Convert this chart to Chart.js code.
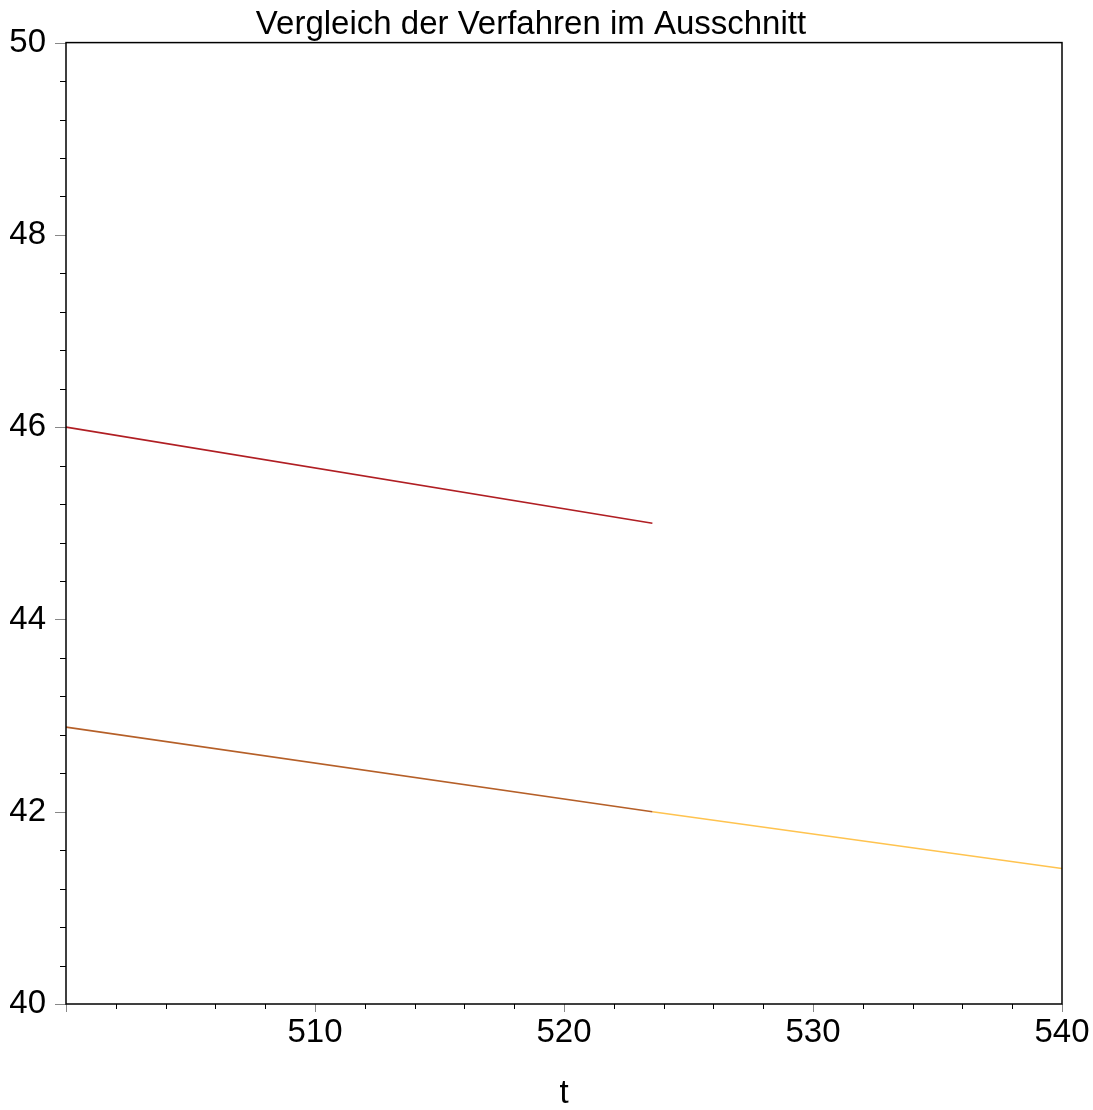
<!DOCTYPE html>
<html>
<head>
<meta charset="utf-8">
<script src="https://cdn.jsdelivr.net/npm/chart.js@4"></script>
<style>
  html, body { margin: 0; padding: 0; background: #fff; }
  #wrap { width: 1093px; height: 1110px; }
</style>
</head>
<body>
<div id="wrap"><canvas id="c" width="1093" height="1110"></canvas></div>
<script>
// data
const tFirst = [500, 523.55];
const tSecond = [523.55, 540];
const redValues = [46.0, 45.0];
const brownValues = [42.88, 42.0];
const yellowValues = [42.0, 41.41];
const xTicks = [510, 520, 530, 540];
const yTicks = [40, 42, 44, 46, 48, 50];

const toPoints = (xs, ys) => xs.map((x, i) => ({ x, y: ys[i] }));

// box round the plot plus Maple style minor/major ticks
const frameTicks = {
  id: "frameTicks",
  afterDraw(chart) {
    const { ctx, chartArea: a, scales } = chart;
    ctx.save();
    ctx.lineWidth = 1;
    for (let v = 40; v <= 50.0001; v += 0.4) {
      const y = Math.round(scales.y.getPixelForValue(v)) + 0.5;
      const major = Math.abs(v - Math.round(v / 2) * 2) < 1e-6;
      ctx.strokeStyle = major ? "#888" : "#000";
      ctx.beginPath();
      ctx.moveTo(a.left - (major ? 11 : 6), y);
      ctx.lineTo(a.left, y);
      ctx.stroke();
    }
    for (let v = 500; v <= 540.0001; v += 2) {
      const x = Math.round(scales.x.getPixelForValue(v)) + 0.5;
      const major = Math.abs(v - Math.round(v / 10) * 10) < 1e-6;
      ctx.strokeStyle = major ? "#888" : "#000";
      ctx.beginPath();
      ctx.moveTo(x, a.bottom);
      ctx.lineTo(x, a.bottom + (major ? 8 : 5));
      ctx.stroke();
    }
    ctx.strokeStyle = "#000";
    ctx.lineWidth = 1.5;
    ctx.strokeRect(a.left, a.top, a.right - a.left, a.bottom - a.top);
    ctx.restore();
  },
};

Chart.defaults.font.family = "'Liberation Sans', Arial, sans-serif";
Chart.defaults.color = "#000";

new Chart(document.getElementById("c"), {
  type: "scatter",
  data: {
    datasets: [
      { label: "a", data: toPoints(tFirst, redValues), borderColor: "#b01e23" },
      { label: "b", data: toPoints(tFirst, brownValues), borderColor: "#b55f28" },
      { label: "c", data: toPoints(tSecond, yellowValues), borderColor: "#ffc34f" },
    ].map(d => Object.assign(d, { showLine: true, pointRadius: 0, borderWidth: 1.6, fill: false })),
  },
  options: {
    responsive: false,
    animation: false,
    layout: { padding: { left: 0, right: 31, top: 0, bottom: 0 } },
    plugins: {
      legend: { display: false },
      tooltip: { enabled: false },
      title: {
        display: true,
        text: "Vergleich der Verfahren im Ausschnitt",
        font: { size: 33, weight: "normal", lineHeight: 1.2 },
        color: "#000",
        padding: { top: 5, bottom: -2 },
      },
    },
    scales: {
      x: {
        type: "linear",
        min: 500,
        max: 540,
        afterBuildTicks: s => { s.ticks = xTicks.map(v => ({ value: v })); },
        afterFit: s => { s.height = 106; s.paddingLeft = 0; s.paddingRight = 0; },
        grid: { display: false, drawTicks: false },
        border: { display: false },
        ticks: { font: { size: 33 }, padding: 9, maxRotation: 0 },
        title: { display: true, text: "t", font: { size: 33 }, padding: { top: 10, bottom: -4 } },
      },
      y: {
        type: "linear",
        min: 40,
        max: 50,
        afterBuildTicks: s => { s.ticks = yTicks.map(v => ({ value: v })); },
        afterFit: s => { s.width = 66; s.paddingTop = 0; s.paddingBottom = 0; },
        grid: { display: false, drawTicks: false },
        border: { display: false },
        ticks: { font: { size: 33 }, padding: 20 },
      },
    },
  },
  plugins: [frameTicks],
});
</script>
</body>
</html>
